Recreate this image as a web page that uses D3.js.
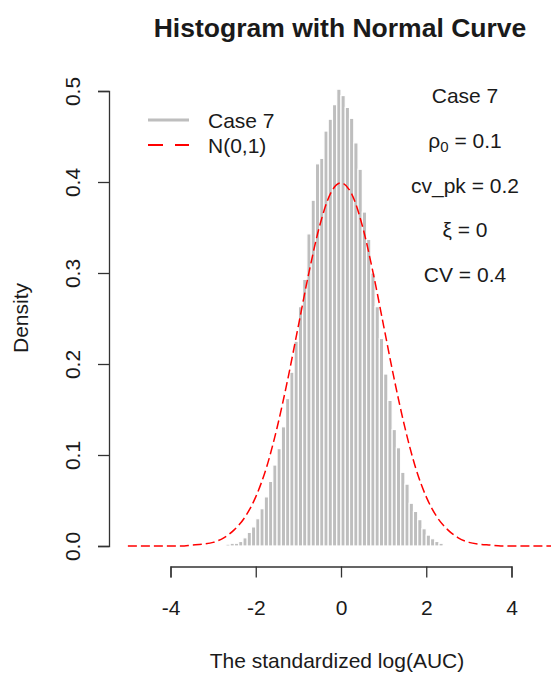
<!DOCTYPE html>
<html>
<head>
<meta charset="utf-8">
<script src="https://cdn.jsdelivr.net/npm/d3@7"></script>
<style>
  body { margin: 0; background: #fff; }
  svg { display: block; font-family: "Liberation Sans", Arial, sans-serif; }
</style>
</head>
<body>
<svg id="chart" width="551" height="676"></svg>
<script>
// Histogram bins: left edge of the first bin, bin width, densities
const binStart = -2.7;
const binWidth = 0.1;
const densities = [
  0.002, 0.003, 0.003, 0.005, 0.009, 0.015, 0.021, 0.030, 0.041, 0.054,
  0.071, 0.089, 0.107, 0.131, 0.162, 0.191, 0.225, 0.263, 0.293, 0.343,
  0.380, 0.420, 0.426, 0.456, 0.469, 0.485, 0.502, 0.495, 0.482, 0.470,
  0.443, 0.414, 0.367, 0.337, 0.300, 0.263, 0.228, 0.189, 0.160, 0.128,
  0.108, 0.081, 0.068, 0.047, 0.038, 0.029, 0.019, 0.012, 0.008, 0.005,
  0.003, 0.001
];

// Reference N(0,1) curve, sampled every 0.25 from -5 to 5
const curveX = d3.range(41).map(i => -5 + i * 0.25);
const curveY = [
  0.000, 0.000, 0.000, 0.000, 0.000, 0.000, 0.001, 0.002, 0.004, 0.009,
  0.018, 0.032, 0.054, 0.086, 0.130, 0.183, 0.242, 0.301, 0.352, 0.387,
  0.399,
  0.387, 0.352, 0.301, 0.242, 0.183, 0.130, 0.086, 0.054, 0.032, 0.018,
  0.009, 0.004, 0.002, 0.001, 0.000, 0.000, 0.000, 0.000, 0.000, 0.000
];

const xTicks = [-4, -2, 0, 2, 4];
const yTicks = [0, 0.1, 0.2, 0.3, 0.4, 0.5];
const legendLabels = ["Case 7", "N(0,1)"];

const svg = d3.select("#chart");
const x = d3.scaleLinear().domain([-4, 4]).range([170.5, 511.5]);
const y = d3.scaleLinear().domain([0, 0.5]).range([546, 91]);

const textColor = "#1a1a1a";
const axisColor = "#333";
const fs = 21;

// Title
svg.append("text")
  .attr("x", 340).attr("y", 37)
  .attr("text-anchor", "middle")
  .attr("font-weight", "bold")
  .attr("font-size", 26.5)
  .attr("fill", textColor)
  .text("Histogram with Normal Curve");

// Bars
const bins = densities.map((d, i) => ({ x0: binStart + i * binWidth, x1: binStart + (i + 1) * binWidth, d }));
svg.append("g").selectAll("rect").data(bins).join("rect")
  .attr("x", b => x(b.x0))
  .attr("width", b => x(b.x1) - x(b.x0))
  .attr("y", b => y(b.d))
  .attr("height", b => y(0) - y(b.d))
  .attr("fill", "#BEBEBE")
  .attr("stroke", "#fff")
  .attr("stroke-width", 1.2);

// Normal curve
const line = d3.line()
  .x((d, i) => x(curveX[i]))
  .y(d => y(d))
  .curve(d3.curveMonotoneX);
svg.append("path")
  .attr("d", line(curveY))
  .attr("fill", "none")
  .attr("stroke", "#FF0000")
  .attr("stroke-width", 1.5)
  .attr("stroke-dasharray", "9,4");

// X axis
const xAxis = svg.append("g").attr("transform", "translate(0,566.5)")
  .call(d3.axisBottom(x).tickValues(xTicks).tickSize(11).tickFormat(d3.format("d")));
xAxis.select(".domain").attr("stroke", axisColor).attr("stroke-width", 1.3);
xAxis.selectAll(".tick line").attr("stroke", axisColor).attr("stroke-width", 1.3);
xAxis.selectAll(".tick text")
  .attr("font-size", fs).attr("fill", textColor)
  .attr("font-family", "Liberation Sans, Arial, sans-serif")
  .attr("y", 48).attr("dy", null)
  .text(d => d < 0 ? "-" + Math.abs(d) : d);

// Y axis
const yAxis = svg.append("g").attr("transform", "translate(109,0)")
  .call(d3.axisLeft(y).tickValues(yTicks).tickSize(11).tickFormat(d3.format(".1f")));
yAxis.select(".domain").attr("stroke", axisColor).attr("stroke-width", 1.3);
yAxis.selectAll(".tick line").attr("stroke", axisColor).attr("stroke-width", 1.3);
yAxis.selectAll(".tick text")
  .attr("font-size", fs).attr("fill", textColor)
  .attr("font-family", "Liberation Sans, Arial, sans-serif")
  .attr("x", null).attr("dy", null)
  .attr("text-anchor", "middle")
  .attr("transform", "translate(-29,0) rotate(-90)");

// Axis titles
svg.append("text")
  .attr("x", 337).attr("y", 668)
  .attr("text-anchor", "middle")
  .attr("font-size", fs)
  .attr("fill", textColor)
  .text("The standardized log(AUC)");
svg.append("text")
  .attr("transform", "translate(28,318) rotate(-90)")
  .attr("text-anchor", "middle")
  .attr("font-size", fs)
  .attr("fill", textColor)
  .text("Density");

// Legend
const leg = svg.append("g");
leg.append("line").attr("x1", 148).attr("x2", 189).attr("y1", 120).attr("y2", 120)
  .attr("stroke", "#BEBEBE").attr("stroke-width", 3);
leg.append("line").attr("x1", 148).attr("x2", 189).attr("y1", 145).attr("y2", 145)
  .attr("stroke", "#FF0000").attr("stroke-width", 2.2).attr("stroke-dasharray", "15,12");
leg.selectAll("text").data(legendLabels).join("text")
  .attr("x", 208).attr("y", (d, i) => 127.5 + i * 25)
  .attr("font-size", fs)
  .attr("fill", textColor)
  .text(d => d);

// Parameter annotations
const ann = svg.append("g").attr("font-size", fs).attr("fill", textColor).attr("text-anchor", "middle");
const annX = 465;
ann.append("text").attr("x", annX).attr("y", 103).text("Case 7");
const rho = ann.append("text").attr("x", annX).attr("y", 147.8);
rho.append("tspan").text("ρ");
rho.append("tspan").attr("font-size", 15).attr("dy", 4).text("0");
rho.append("tspan").attr("dy", -4).text(" = 0.1");
ann.append("text").attr("x", annX).attr("y", 192.6).text("cv_pk = 0.2");
ann.append("text").attr("x", annX).attr("y", 237.4).text("ξ = 0");
ann.append("text").attr("x", annX).attr("y", 282.2).text("CV = 0.4");
</script>
</body>
</html>
